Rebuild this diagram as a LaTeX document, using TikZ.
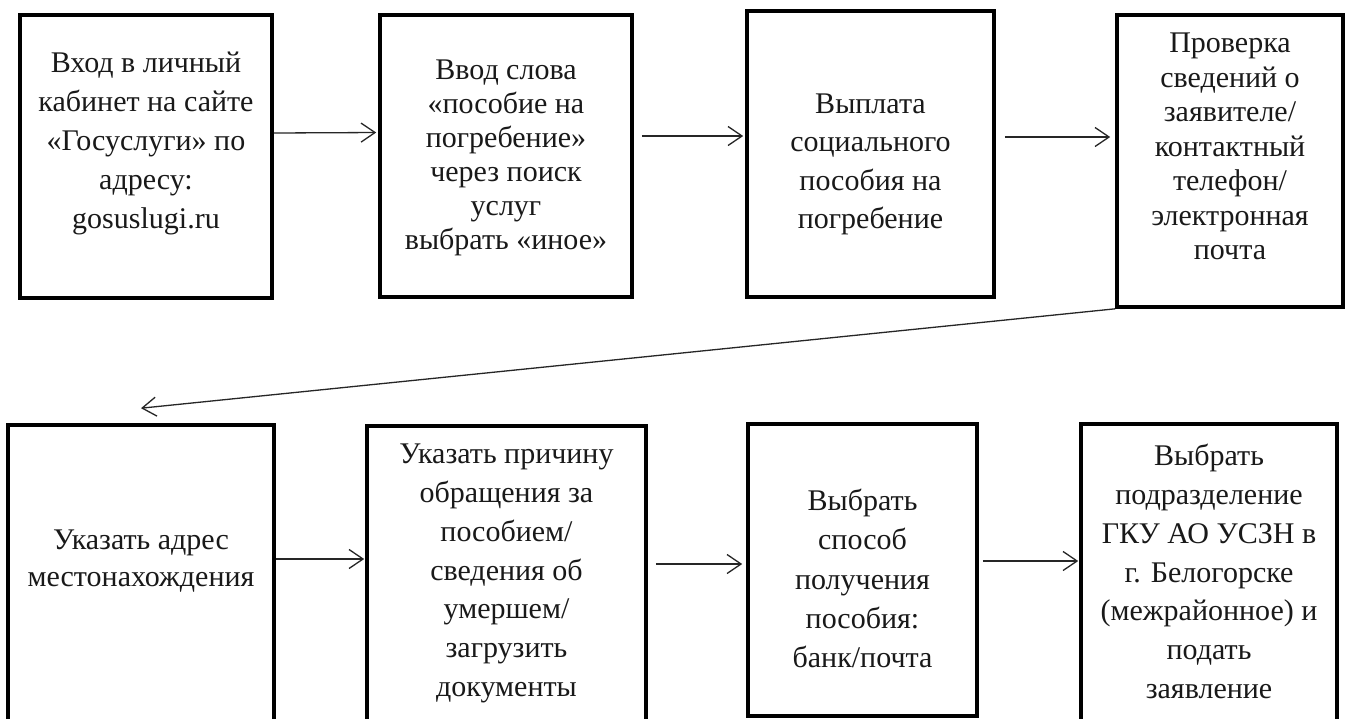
\documentclass[tikz,border=0pt]{standalone}
\usepackage{fontspec}
\setmainfont{Liberation Serif}
\usetikzlibrary{arrows.meta}
\begin{document}
\begin{tikzpicture}[x=1pt,y=-1pt,
  boxst/.style={draw=black, line width=3.6pt, inner sep=0pt, fill=none},
  txt/.style={align=center, inner sep=0pt, text=black!90},
  arr/.style={draw=black!85, line width=1.3pt, -{Straight Barb[length=14pt,width=19pt,line width=1.3pt]}}]
\path[use as bounding box, fill=white] (0,0) rectangle (1349,718);
\clip (0,0) rectangle (1349,718);
% row 1 boxes
\node[boxst, minimum width=252pt, minimum height=283pt] (b1) at (146,156.5) {};
\node[boxst, minimum width=252pt, minimum height=282pt] (b2) at (506,156) {};
\node[boxst, minimum width=247pt, minimum height=286pt] (b3) at (870.5,154) {};
\node[boxst, minimum width=226pt, minimum height=292pt] (b4) at (1230,161) {};
% row 2 boxes
\node[boxst, minimum width=266pt, minimum height=305pt] (b5) at (141,577.5) {};
\node[boxst, minimum width=279pt, minimum height=304pt] (b6) at (506.5,578) {};
\node[boxst, minimum width=229pt, minimum height=292pt] (b7) at (862.5,570) {};
\node[boxst, minimum width=256pt, minimum height=306pt] (b8) at (1209,577) {};
% texts
\node[txt, font=\fontsize{30}{39}\selectfont] (t1) at (146,143.5)
  {Вход в личный\\кабинет на сайте\\«Госуслуги» по\\адресу:\\gosuslugi.ru};
\node[txt, font=\fontsize{30}{34}\selectfont] (t2) at (506,158)
  {Ввод слова\\«пособие на\\погребение»\\через поиск\\услуг\\выбрать «иное»};
\node[txt, font=\fontsize{30}{38.3}\selectfont] (t3) at (870.5,164.5)
  {Выплата\\социального\\пособия на\\погребение};
\node[txt, font=\fontsize{30}{34.5}\selectfont] (t4) at (1230,146.5)
  {Проверка\\сведений о\\заявителе/\\контактный\\телефон/\\электронная\\почта};
\node[txt, font=\fontsize{30}{37}\selectfont] (t5) at (141,561.5)
  {Указать адрес\\местонахождения};
\node[txt, font=\fontsize{30}{38.8}\selectfont] (t6) at (506.5,573.5)
  {Указать причину\\обращения за\\пособием/\\сведения об\\умершем/\\загрузить\\документы};
\node[txt, font=\fontsize{30}{39.2}\selectfont] (t7) at (862.5,578.5)
  {Выбрать\\способ\\получения\\пособия:\\банк/почта};
\node[txt, font=\fontsize{30}{38.8}\selectfont] (t8) at (1209,571.5)
  {Выбрать\\подразделение\\ГКУ АО УСЗН в\\г. Белогорске\\(межрайонное) и\\подать\\заявление};
% connectors
\draw[arr, shorten >=2pt] ([yshift=23.5pt]b1.east) -- ([yshift=23.5pt]b2.west);
\draw[arr, shorten <=8pt, shorten >=2pt] ([yshift=20pt]b2.east) -- ([yshift=18pt]b3.west);
\draw[arr, shorten <=9pt, shorten >=5pt] ([yshift=17pt]b3.east) -- ([yshift=24pt]b4.west);
\draw[arr] (b4.south west) -- ([yshift=15pt]b5.north);
\draw[arr, shorten >=1pt] ([yshift=18.5pt]b5.east) -- ([yshift=19pt]b6.west);
\draw[arr, shorten <=8pt, shorten >=4pt] ([yshift=14pt]b6.east) -- ([yshift=6pt]b7.west);
\draw[arr, shorten <=4pt, shorten >=1pt] ([yshift=9pt]b7.east) -- ([yshift=16pt]b8.west);
\end{tikzpicture}
\end{document}
